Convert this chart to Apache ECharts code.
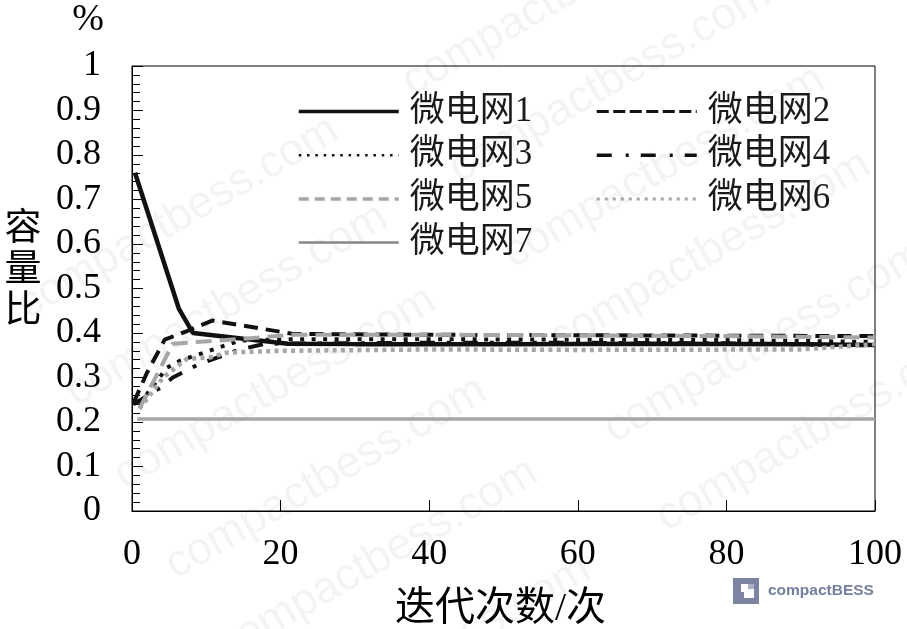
<!DOCTYPE html>
<html>
<head>
<meta charset="utf-8">
<style>html,body{margin:0;padding:0;background:#fff}#c{width:907px;height:629px}</style>
<script src="https://cdn.jsdelivr.net/npm/echarts@6/dist/echarts.min.js"></script>
</head>
<body>
<div id="c"></div>
<script>
// Capacity ratio of each microgrid over the iterations, as [iteration, ratio] pairs
const grid1 = [[0.4,0.76],[6.3,0.455],[8.2,0.4],[15,0.387],[21,0.376],[30,0.375],[50,0.375],[70,0.376],[90,0.375],[100,0.373]];
const grid2 = [[0.2,0.243],[2,0.31],[4.4,0.385],[7.5,0.405],[10.8,0.428],[21.7,0.398],[40,0.396],[60,0.395],[80,0.394],[100,0.393]];
const grid3 = [[1,0.24],[4.7,0.322],[6.5,0.338],[14.5,0.383],[21,0.386],[40,0.386],[60,0.385],[80,0.384],[100,0.38]];
const grid4 = [[0.2,0.24],[3.8,0.277],[5.5,0.3],[8.9,0.329],[11,0.342],[14.5,0.363],[18,0.376],[40,0.378],[60,0.378],[80,0.377],[100,0.372]];
const grid5 = [[1,0.23],[5.5,0.376],[15,0.387],[21.5,0.396],[40,0.396],[60,0.395],[80,0.393],[100,0.39]];
const grid6 = [[1,0.23],[4.2,0.3],[7.4,0.342],[10.5,0.345],[12.8,0.356],[20,0.36],[40,0.363],[60,0.362],[90,0.363],[100,0.375]];
const grid7 = [[0.7,0.207],[100,0.207]];

const seriesNames = ['微电网1','微电网2','微电网3','微电网4','微电网5','微电网6','微电网7'];
const xTicks = [0,20,40,60,80,100];
const yTicks = [0,0.1,0.2,0.3,0.4,0.5,0.6,0.7,0.8,0.9,1];

const serif = '"Liberation Serif","Noto Sans CJK SC",serif';
const BLACK = '#111111', GREY = '#a6a6a6';

// Line look per series: plotted stroke and its thinner legend sample
const looks = [
  {color:BLACK, width:4.5, type:'solid',        legend:{width:3.5,type:'solid',color:BLACK}},
  {color:BLACK, width:4,   type:[14,8],         legend:{width:3,type:[12,4.5],color:BLACK}},
  {color:BLACK, width:4,   type:[4,7.5],        legend:{width:2.5,type:[2.5,5.8],color:BLACK}},
  {color:BLACK, width:4,   type:[15,12,4,12],   legend:{width:3.5,type:[15,14,3,12],color:BLACK}},
  {color:GREY,  width:4,   type:[16,8],         legend:{width:3.5,type:[10,6],color:GREY}},
  {color:GREY,  width:4.5, type:[4,4.3],        legend:{width:3,type:[3,5],color:GREY}},
  {color:GREY,  width:3.5, type:'solid',        legend:{width:2.5,type:'solid',color:'#868686'}}
];
const tracks = [grid1,grid2,grid3,grid4,grid5,grid6,grid7];

function legendColumn(indices, left){
  return {
    left, top:94, padding:0, orient:'vertical', itemWidth:100, itemHeight:14, itemGap:8.7,
    selectedMode:false,
    textStyle:{fontFamily:serif,fontSize:35,color:'#1a1a1a',padding:[0,0,0,6]},
    data:indices.map(i=>({name:seriesNames[i],lineStyle:looks[i].legend,itemStyle:{opacity:0}}))
  };
}

// Faint site mark repeated diagonally behind the plot
const markCentres = [[178,218],[227,305],[275,388],[326,478],[377,560],[430,657],
                     [563,-5],[610,82],[664,167],[710,252],[765,342],[817,430]];
const siteMarks = markCentres.map(([x,y])=>({
  type:'text', x, y, rotation:Math.PI/6, z:-1, silent:true,
  style:{text:'compactbess.com',fontFamily:'"Liberation Sans",sans-serif',fontSize:45,
         fill:'rgba(0,0,0,0.048)',align:'center',verticalAlign:'middle'}
}));

const chart = echarts.init(document.getElementById('c'),null,{renderer:'canvas'});
chart.setOption({
  animation:false,
  backgroundColor:'#fff',
  grid:{left:132,right:32,top:66,bottom:118,outerBoundsMode:'none',show:true,borderColor:'#000',borderWidth:1,backgroundColor:'transparent'},
  legend:[legendColumn([0,2,4,6],297),legendColumn([1,3,5],595)],
  xAxis:{
    type:'value',min:0,max:100,interval:20,
    name:'迭代次数/次',nameLocation:'middle',nameGap:78,
    nameTextStyle:{fontFamily:serif,fontSize:40,color:'#000',padding:[0,6,0,0]},
    axisLine:{lineStyle:{color:'#000',width:1}},
    axisTick:{inside:true,length:11,lineStyle:{color:'#000',width:1}},
    axisLabel:{fontFamily:serif,fontSize:36,color:'#000',margin:26,hideOverlap:false,
      formatter:v=>xTicks.includes(v)?String(v):''},
    splitLine:{show:false}
  },
  yAxis:{
    type:'value',min:0,max:1,interval:0.1,
    axisLine:{show:true,lineStyle:{color:'#000',width:1}},
    axisTick:{show:true,inside:true,length:11,lineStyle:{color:'#000',width:1}},
    minorTick:{show:true,splitNumber:5,length:8,lineStyle:{color:'#000',width:1}},
    axisLabel:{fontFamily:serif,fontSize:36,color:'#000',margin:31,
      formatter:v=>String(yTicks.find(t=>Math.abs(t-v)<1e-6))},
    splitLine:{show:false}
  },
  series:seriesNames.map((name,i)=>({
    name,type:'line',data:tracks[i],symbol:'none',showSymbol:false,smooth:false,clip:false,
    lineStyle:{color:looks[i].color,width:looks[i].width,type:looks[i].type,cap:'butt'},
    itemStyle:{color:looks[i].color}
  })),
  graphic:[
    ...siteMarks,
    {type:'text',x:88,y:20,style:{text:'%',fontFamily:serif,fontSize:38,fill:'#000',align:'center',verticalAlign:'middle'}},
    {type:'text',x:23,y:271,style:{text:'容\n量\n比',fontFamily:serif,fontSize:37,lineHeight:41,fill:'#000',align:'center',verticalAlign:'middle'}},
    // compactBESS badge
    {type:'rect',shape:{x:733,y:578,width:26,height:26},style:{fill:'#7b85a2'}},
    {type:'rect',shape:{x:741,y:584,width:13,height:14},style:{fill:'#fff'}},
    {type:'rect',shape:{x:738,y:592,width:6,height:6},style:{fill:'#7b85a2'}},
    {type:'rect',shape:{x:748,y:584,width:6,height:5},style:{fill:'#a9b0c4'}},
    {type:'text',x:768,y:591,style:{text:'compactBESS',fontFamily:'"Liberation Sans",sans-serif',fontWeight:'bold',fontSize:15.5,fill:'#747f9d',align:'left',verticalAlign:'middle'}}
  ]
});
</script>
</body>
</html>
